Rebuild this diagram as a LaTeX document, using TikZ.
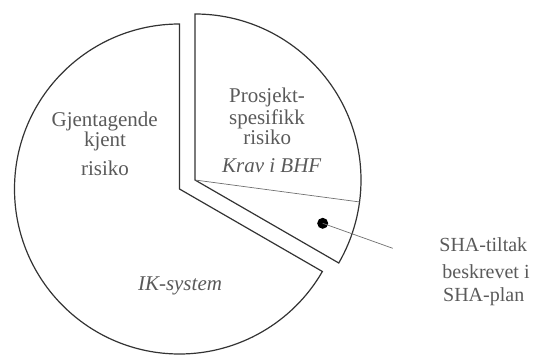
\documentclass[tikz,border=0pt]{standalone}
\usepackage{fontspec}
\setmainfont{Liberation Serif}
\usetikzlibrary{calc}
\definecolor{edge}{HTML}{333333}
\definecolor{thin}{HTML}{707070}
\definecolor{label}{HTML}{5A5A5A}
\begin{document}
\begin{tikzpicture}[x=1pt,y=1pt,
  slice/.style={draw=edge,line width=1.2pt,line join=miter},
  divider/.style={draw=thin,line width=0.7pt},
  big/.style={text=label,font=\fontsize{21}{25}\selectfont,anchor=base,inner sep=0pt},
  bigit/.style={big,font=\fontsize{21}{25}\selectfont\itshape},
  side/.style={text=label,font=\fontsize{20}{24}\selectfont,anchor=base,inner sep=0pt}]
\useasboundingbox (0,0) rectangle (536,354);

% main slice (240 degrees)
\coordinate (cbig) at (179.5,165);
\draw[slice] (cbig) -- ++(90:165) arc (90:330:165) -- cycle;

% exploded slice (120 degrees)
\coordinate (csmall) at (195,174);
\draw[slice] (csmall) -- ++(90:166) arc (90:-30:166) -- cycle;

% divider inside the exploded slice
\coordinate (divend) at ($(csmall)+(-7.6:166)$);
\draw[divider] (csmall) -- (divend);

% marker and pointer line
\node[circle,fill=black,inner sep=0pt,minimum size=11pt] (dot) at (322.7,130.7) {};
\coordinate (ptrend) at (392.7,105.7);
\draw[divider] (dot.center) -- (ptrend);

% labels of the main slice
\node[big] (g1) at (104.7,227.3) {Gjentagende};
\node[big] (g2) at (105,207.3) {kjent};
\node[big] (g3) at (105,178) {risiko};
\node[bigit] (ik) at (180,63.3) {IK-system};

% labels of the exploded slice
\node[big] (p1) at (267,251.2) {Prosjekt-};
\node[big] (p2) at (267,229.6) {spesifikk};
\node[big] (p3) at (267.3,209.9) {risiko};
\node[bigit] (krav) at (271.7,181.3) {Krav i BHF};

% side note
\node[side] (s1) at (483.3,102.3) {SHA-tiltak};
\node[side] (s2) at (486,75.7) {beskrevet i};
\node[side] (s3) at (483.7,52.3) {SHA-plan};
\end{tikzpicture}
\end{document}
